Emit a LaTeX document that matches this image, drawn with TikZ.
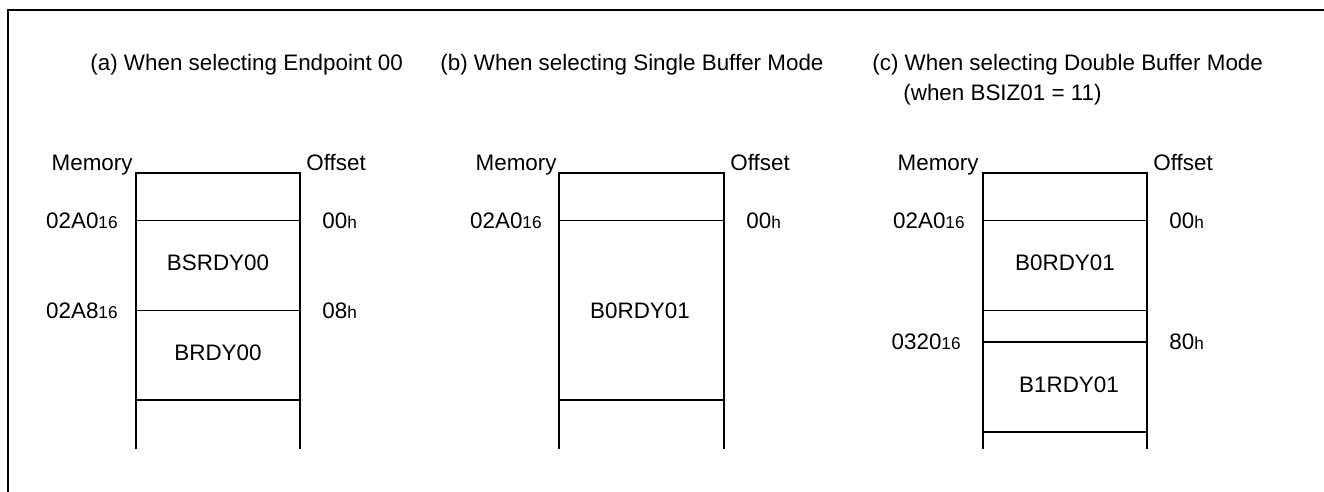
\documentclass[tikz,border=0pt]{standalone}
\usepackage{fontspec}
\setmainfont{Liberation Sans}
\usetikzlibrary{calc}
\newcommand{\klein}[1]{{\fontsize{8.6}{10}\selectfont #1}}
\tikzset{
  txt/.style={inner sep=0pt, font=\fontsize{11.2}{13}\selectfont},
  memline/.style={line width=0.6pt}
}
\begin{document}
\begin{tikzpicture}[x=0.5pt, y=-0.5pt] % 1 unit = 1 pixel
\useasboundingbox (0,0) rectangle (1324,492);

%RAHMEN
\draw [line width=1pt] (1324,10) -- (8,10) -- (8,492);

%PANEL NR. 0 (von links)
\node [txt, anchor=base west] (titleA) at (90,71) {(a) When selecting Endpoint 00};
\node [txt, anchor=base east] (memA) at (133,170) {Memory};
\node [txt, anchor=base west] (offA) at (306,170) {Offset};
\draw [memline] (136,449) -- (136,173) -- (300,173) -- (300,449);
\draw [memline] (136,220.5) -- (300,220.5);
\draw [memline] (136,310.5) -- (300,310.5);
\draw [memline] (136,400) -- (300,400);
\node [txt, anchor=base east] (adrA0) at (118,228.5) {02A0\klein{16}};
\node [txt, anchor=base west] (ofsA0) at (322,228.5) {00\klein{h}};
\node [txt, anchor=base east] (adrA1) at (118,318.5) {02A8\klein{16}};
\node [txt, anchor=base west] (ofsA1) at (322,318.5) {08\klein{h}};
\node [txt] (cellA0) at ($(218,263)$) {BSRDY00};
\node [txt] (cellA1) at ($(218,352.5)$) {BRDY00};

%PANEL NR. 1 (von links)
\node [txt, anchor=base west] (titleB) at (440,71) {(b) When selecting Single Buffer Mode};
\node [txt, anchor=base east] (memB) at (557,170) {Memory};
\node [txt, anchor=base west] (offB) at (730,170) {Offset};
\draw [memline] (559,449) -- (559,173) -- (724,173) -- (724,449);
\draw [memline] (559,220.5) -- (724,220.5);
\draw [memline] (559,400) -- (724,400);
\node [txt, anchor=base east] (adrB0) at (542,228.5) {02A0\klein{16}};
\node [txt, anchor=base west] (ofsB0) at (746,228.5) {00\klein{h}};
\node [txt] (cellB0) at ($(640,311)$) {B0RDY01};

%PANEL NR. 2 (von links)
\node [txt, anchor=base west] (titleC) at (872,71) {(c) When selecting Double Buffer Mode};
\node [txt, anchor=base west] (titleC2) at (903,101) {(when BSIZ01 = 11)};
\node [txt, anchor=base east] (memC) at (979,170) {Memory};
\node [txt, anchor=base west] (offC) at (1153,170) {Offset};
\draw [memline] (983,449) -- (983,173) -- (1147,173) -- (1147,449);
\draw [memline] (983,220.5) -- (1147,220.5);
\draw [memline] (983,310.5) -- (1147,310.5);
\draw [memline] (983,342) -- (1147,342);
\draw [memline] (983,432) -- (1147,432);
\node [txt, anchor=base east] (adrC0) at (965,228.5) {02A0\klein{16}};
\node [txt, anchor=base west] (ofsC0) at (1169,228.5) {00\klein{h}};
\node [txt, anchor=base east] (adrC1) at (961,350) {0320\klein{16}};
\node [txt, anchor=base west] (ofsC1) at (1169,350) {80\klein{h}};
\node [txt] (cellC0) at ($(1065,263)$) {B0RDY01};
\node [txt] (cellC1) at ($(1069,385)$) {B1RDY01};

\end{tikzpicture}
\end{document}
